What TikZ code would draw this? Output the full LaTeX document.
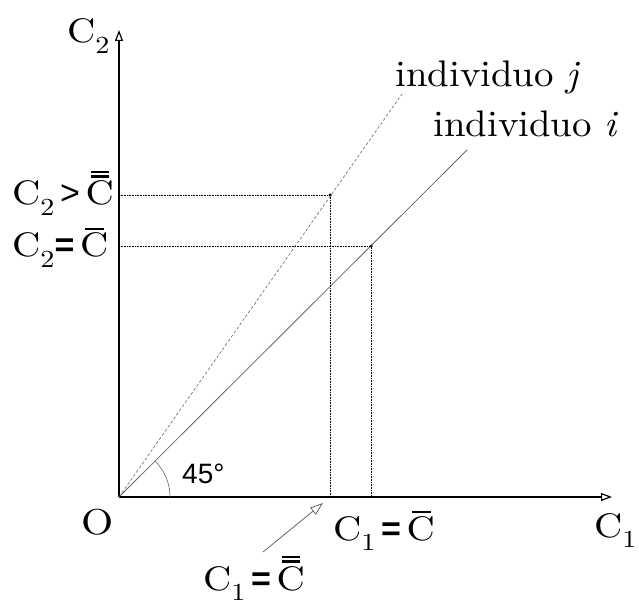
\documentclass[tikz,border=0pt]{standalone}
\usepackage{fontspec}
\setmainfont{lmroman10-regular.otf}[ItalicFont=lmroman10-italic.otf, BoldFont=lmroman10-bold.otf]
\newfontfamily\cfont{lmroman10-regular.otf}[FakeStretch=1.15]
\newfontfamily\ifont{lmroman10-regular.otf}[FakeStretch=1.05, ItalicFont=lmroman10-italic.otf]
\newfontfamily\sansf{Liberation Sans}
\usetikzlibrary{arrows.meta,calc}
\newcommand{\mysub}[1]{\raisebox{-0.3em}{\scalebox{0.72}{#1}}}
\newcommand{\Cone}{\leavevmode\rlap{\hspace{0.15em}\rule[0.8em]{0.55em}{0.055em}}C}
\newcommand{\Ctwo}{\leavevmode\rlap{\hspace{0.15em}\rule[0.8em]{0.55em}{0.07em}}\rlap{\hspace{0.15em}\rule[0.93em]{0.55em}{0.07em}}C}
\tikzset{
  axis/.style={line width=1.2pt, -{Triangle[open,length=11pt,width=8pt]}},
  guide/.style={densely dotted, line width=0.6pt},
  lbl/.style={anchor=base west, inner sep=0pt, font=\cfont\fontsize{34}{40}\selectfont},
  ind/.style={anchor=base west, inner sep=0pt, font=\ifont\fontsize{37}{42}\selectfont},
  dot/.style={circle, fill=black, inner sep=0pt, minimum size=3.5pt}
}
\begin{document}
\begin{tikzpicture}[x=1pt,y=1pt]
\useasboundingbox (0,0) rectangle (639,608);
\coordinate (O) at (119,111);
\coordinate (Ytop) at (119,578);
\coordinate (Xend) at (612,111);
\coordinate (Iend) at (467,458);
\coordinate (Jend) at (402,514);
\node[dot] (Pj) at (330,413) {};
\node[dot] (Pi) at (371,362) {};
\coordinate (Yj) at (119,413);
\coordinate (Yi) at (119,362);
\coordinate (Xj) at (330,111);
\coordinate (Xi) at (371,111);
\coordinate (Astart) at (263,56);
\coordinate (Aend) at (323,105);
% axes
\draw[axis] (O) -- (Ytop);
\draw[axis] (O) -- (Xend);
% individual lines
\draw[gray!80!black, line width=0.8pt] (O) -- (Iend);
\draw[gray!80!black, dash pattern=on 3pt off 2pt, line width=0.6pt] (O) -- (Jend);
% guides
\draw[guide] (Yj) -- (Pj.center) -- (Xj);
\draw[guide] (Yi) -- (Pi.center) -- (Xi);
% angle arc
\draw[gray!80!black, line width=0.6pt] ($(O)+(51,0)$) arc[start angle=0, end angle=45, radius=51];
% pointer arrow
\draw[gray!80!black, line width=0.8pt, -{Triangle[open,length=13pt,width=9pt]}] (Astart) -- (Aend);
% labels
\node[lbl] (lC2) at (67,565) {C\mysub{2}};
\node[lbl] (lC2g) at (12,403) {C\mysub{2}{\sansf\,>\,}\Ctwo};
\node[lbl] (lC2e) at (12,351) {C\mysub{2}{\sansf\textbf{=}\,}\Cone};
\node[anchor=base west, inner sep=0pt, font=\cfont\fontsize{36}{44}\selectfont] (lO) at (81,74) {O};
\node[lbl] (lC1e) at (333,68) {C\mysub{1}{\sansf\,\textbf{=}\,}\Cone};
\node[lbl] (lC1) at (594,71) {C\mysub{1}};
\node[lbl] (lC1g) at (203,18) {C\mysub{1}{\sansf\,\textbf{=}\,}\Ctwo};
\node[ind] (lj) at (395,521) {individuo \textit{j}};
\node[ind] (li) at (433,471) {individuo \textit{i}};
\node[anchor=base west, inner sep=0pt, font=\sansf\fontsize{28}{32}\selectfont] (l45) at (182,125) {45°};
\end{tikzpicture}
\end{document}
